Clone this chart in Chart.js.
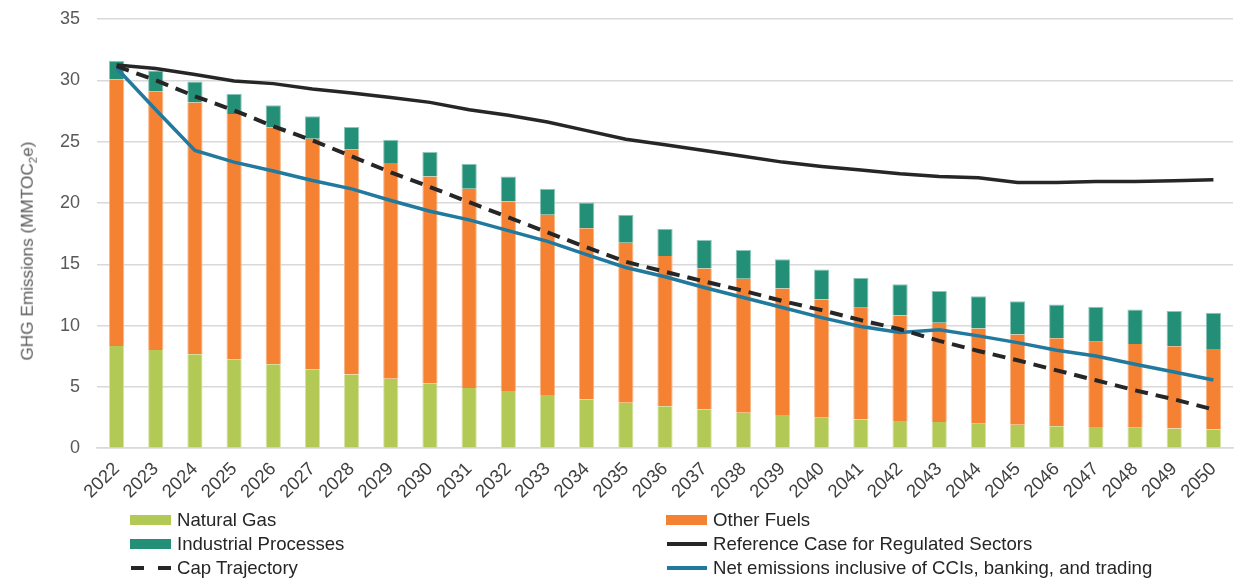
<!DOCTYPE html>
<html>
<head>
<meta charset="utf-8">
<script src="https://cdn.jsdelivr.net/npm/chart.js@4.4.1/dist/chart.umd.min.js"></script>
<style>
  body { margin: 0; background: #fff; font-family: "Liberation Sans", Arial, sans-serif; }
  #wrap { position: relative; width: 1235px; height: 582px; }
  #legend { position: absolute; left: 130px; top: 508px; display: grid;
            grid-template-columns: 536px 560px; grid-auto-rows: 24px; }
  .item { display: flex; align-items: center; font-size: 18.6px; color: #262626; white-space: nowrap; }
  .item svg { margin-right: 5px; }
  #ytitle { position: absolute; left: 28px; top: 251px; transform: translate(-50%, -50%) rotate(-90deg);
            font-size: 17.2px; color: #595959; white-space: nowrap; }
</style>
</head>
<body>
<div id="wrap">
  <canvas id="ghgChart" width="1235" height="582"></canvas>
  <div id="ytitle">GHG Emissions (MMTOC<sub style="font-size:11.5px">2</sub>e)</div>
  <div id="legend"></div>
</div>
<script>
var years = ['2022','2023','2024','2025','2026','2027','2028','2029','2030','2031','2032','2033','2034','2035',
             '2036','2037','2038','2039','2040','2041','2042','2043','2044','2045','2046','2047','2048','2049','2050'];

var naturalGas = [8.34, 8.0, 7.66, 7.25, 6.84, 6.43, 6.02, 5.67, 5.29, 4.9, 4.66, 4.33, 3.98, 3.71,
                  3.43, 3.16, 2.89, 2.70, 2.48, 2.34, 2.21, 2.13, 1.99, 1.91, 1.80, 1.72, 1.66, 1.61, 1.53];
var otherFuels = [21.72, 21.1, 20.54, 20.0, 19.33, 18.81, 18.35, 17.58, 16.87, 16.25, 15.45, 14.7, 13.95, 13.05,
                  12.24, 11.5, 10.93, 10.33, 9.65, 9.11, 8.61, 8.09, 7.77, 7.36, 7.17, 6.97, 6.84, 6.70, 6.56];
var industrial = [1.54, 1.7, 1.7, 1.65, 1.79, 1.82, 1.83, 1.91, 1.99, 2.05, 2.05, 2.12, 2.1, 2.27,
                  2.23, 2.32, 2.34, 2.37, 2.45, 2.45, 2.54, 2.59, 2.64, 2.72, 2.75, 2.84, 2.81, 2.87, 2.95];
var referenceCase = [31.25, 30.96, 30.47, 29.95, 29.73, 29.3, 28.97, 28.6, 28.2, 27.6, 27.15, 26.6, 25.9, 25.2,
                     24.75, 24.28, 23.8, 23.33, 22.98, 22.68, 22.38, 22.16, 22.05, 21.67, 21.67, 21.75, 21.75, 21.8, 21.9];
var capTrajectory = [31.15, 30.0, 28.7, 27.55, 26.25, 25.1, 23.8, 22.5, 21.3, 20.06, 18.83, 17.6, 16.38, 15.2,
                     14.39, 13.6, 12.84, 12.0, 11.26, 10.44, 9.7, 8.75, 7.93, 7.17, 6.35, 5.54, 4.72, 3.98, 3.16];
var netEmissions = [31.0, 27.6, 24.28, 23.33, 22.6, 21.83, 21.15, 20.2, 19.32, 18.62, 17.74, 16.87, 15.78, 14.74,
                    13.98, 13.1, 12.29, 11.47, 10.65, 9.93, 9.43, 9.65, 9.16, 8.61, 7.99, 7.52, 6.84, 6.21, 5.56];

Chart.defaults.font.family = '"Liberation Sans", Arial, sans-serif';
Chart.defaults.color = '#595959';

var ctx = document.getElementById('ghgChart');
var myChart = new Chart(ctx, {
  type: 'bar',
  data: {
    labels: years,
    datasets: [
      { label: 'Natural Gas', data: naturalGas, backgroundColor: '#B2CA55', stack: 'bars', order: 2,
        borderColor: '#D8E4A8', borderWidth: {left: 1, right: 1} },
      { label: 'Other Fuels', data: otherFuels, backgroundColor: '#F58233', stack: 'bars', order: 2,
        borderColor: '#F9B585', borderWidth: {left: 1, right: 1} },
      { label: 'Industrial Processes', data: industrial, backgroundColor: '#238F77', stack: 'bars', order: 2,
        borderColor: '#8CC7BA', borderWidth: {left: 1, right: 1, top: 1} },
      { type: 'line', label: 'Reference Case for Regulated Sectors', data: referenceCase, stack: 'ref', order: 0,
        borderColor: '#262626', borderWidth: 3.5, pointRadius: 0, tension: 0, fill: false },
      { type: 'line', label: 'Cap Trajectory', data: capTrajectory, stack: 'cap', order: 0,
        borderColor: '#262626', borderWidth: 4, borderDash: [13, 8], pointRadius: 0, tension: 0, fill: false },
      { type: 'line', label: 'Net emissions inclusive of CCIs, banking, and trading', data: netEmissions, stack: 'net', order: 0,
        borderColor: '#21799E', borderWidth: 3.5, pointRadius: 0, tension: 0, fill: false }
    ]
  },
  options: {
    responsive: false,
    animation: false,
    layout: { padding: { top: 19, right: 2, bottom: 77, left: 14 } },
    datasets: { bar: { barPercentage: 0.39, categoryPercentage: 1 } },
    plugins: { legend: { display: false }, tooltip: { enabled: false } },
    scales: {
      x: {
        stacked: true,
        grid: { display: false },
        border: { color: '#D9D9D9', width: 1.5 },
        ticks: { minRotation: 45, maxRotation: 45, font: { size: 18.5 }, color: '#404040', padding: 2 }
      },
      y: {
        stacked: true,
        min: 0, max: 35,
        border: { display: false },
        grid: { color: '#D9D9D9', lineWidth: 1.5, drawTicks: false },
        ticks: { stepSize: 5, font: { size: 18 }, color: '#595959', padding: 17 },
        afterFit: function(axis){
          // fixed axis width; tick padding only meant to be horizontal
          axis.width = 83;
          axis.paddingTop = 0;
          axis.paddingBottom = 0;
        }
      }
    }
  }
});

// two-column legend under the chart, built from the datasets
var legendEl = document.getElementById('legend');
myChart.data.datasets.forEach(function(ds){
  var item = document.createElement('div');
  item.className = 'item';
  var sample;
  if (ds.type === 'line') {
    var dash = ds.borderDash ? ' stroke-dasharray="13 14"' : '';
    sample = '<svg width="42" height="12"><line x1="1" y1="6" x2="41" y2="6" stroke="' + ds.borderColor +
             '" stroke-width="4"' + dash + '/></svg>';
  } else {
    sample = '<svg width="42" height="12"><rect x="0" y="1" width="41" height="10" fill="' + ds.backgroundColor + '"/></svg>';
  }
  item.innerHTML = sample + '<span>' + ds.label + '</span>';
  legendEl.appendChild(item);
});
</script>
</body>
</html>
